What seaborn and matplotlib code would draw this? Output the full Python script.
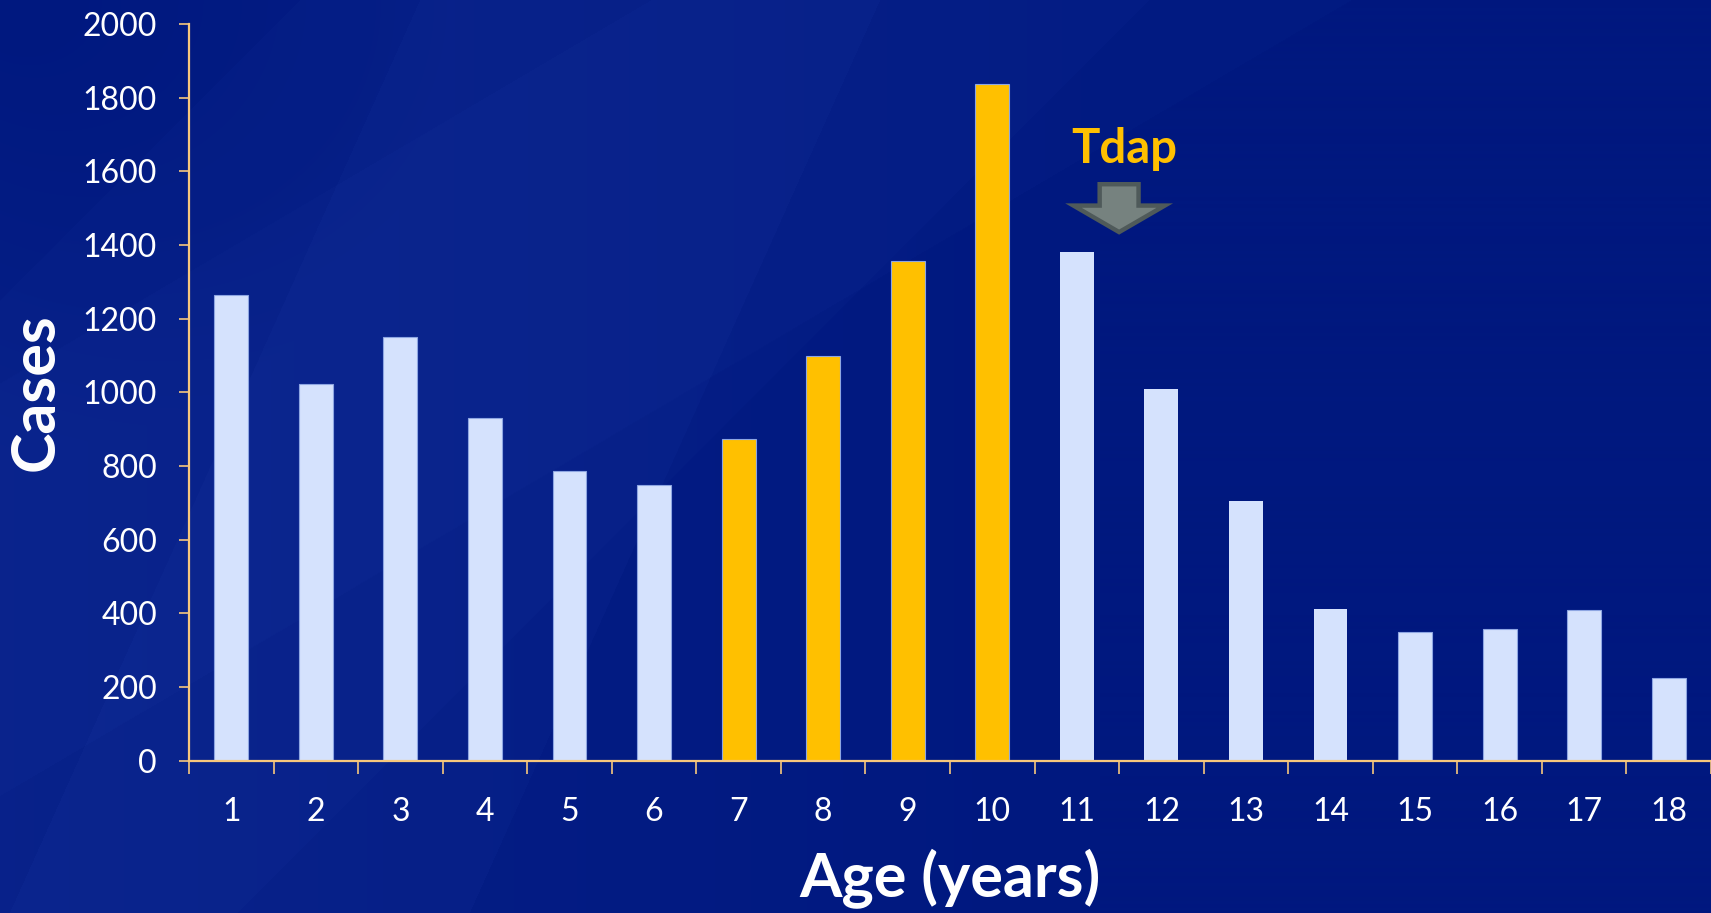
import numpy as np
import pandas as pd
import matplotlib
matplotlib.use("Agg")
import matplotlib.pyplot as plt
import matplotlib.patches as mpatches
from matplotlib.ticker import FixedLocator, NullFormatter, FixedFormatter
import seaborn as sns

# Pertussis cases by single year of age
ages = [str(a) for a in range(1, 19)]
cases = [1265, 1022, 1150, 930, 785, 747, 874, 1099, 1357, 1837,
         1381, 1010, 705, 412, 350, 358, 409, 225]
highlight = ["other"] * 6 + ["peak"] * 4 + ["other"] * 8
yticks = [0, 200, 400, 600, 800, 1000, 1200, 1400, 1600, 1800, 2000]

BG = "#00187f"
BAR_LIGHT = "#d5e2fd"
BAR_GOLD = "#ffc000"
AXIS = "#f7c77c"

sns.set_theme(style="ticks")
plt.rcParams["font.family"] = ["Lato", "DejaVu Sans"]

fig = plt.figure(figsize=(17.11, 9.13), dpi=100)
fig.patch.set_facecolor(BG)

# Background: navy with faint diagonal light streaks
bg = fig.add_axes([0, 0, 1, 1], zorder=-10)
H, W = 913, 1711
yy, xx = np.mgrid[0:H, 0:W].astype(float)
light = np.zeros((H, W))
light += 0.05 * np.clip(1 - xx / 1100, 0, 1)                        # brighter toward the left
light -= 0.05 * np.clip(1 - np.hypot(xx, yy) / 450, 0, 1)            # darker top-left corner
band1 = (xx + 0.45 * yy)                                              # steep streak edges
light += 0.02 * ((band1 > 420) & (band1 < 880)).astype(float)
band2 = (xx - 1.7 * (H - yy))                                         # rising diagonal toward the right
light += 0.015 * ((band2 < -200) & (band2 > -900)).astype(float)
band3 = xx + yy
light += 0.015 * ((band3 > 300) & (band3 < 1150)).astype(float)
base = np.array(matplotlib.colors.to_rgb(BG))
tint = np.array(matplotlib.colors.to_rgb("#2a4ab8"))
img = base[None, None, :] + light[..., None] * (tint - base)[None, None, :] * 3.0
img = np.clip(img, 0, 1)
bg.imshow(img, aspect="auto", extent=[0, 1, 0, 1], origin="upper")
bg.set_axis_off()

ax = fig.add_axes([189 / W, 1 - 760.6 / H, 1 - 189 / W, (760.6 - 24) / H])
ax.set_facecolor("none")

df = pd.DataFrame({"Age": ages, "Cases": cases, "group": highlight})
sns.barplot(data=df, x="Age", y="Cases", hue="group", order=ages,
            palette={"other": BAR_LIGHT, "peak": BAR_GOLD}, dodge=False,
            width=0.4, legend=False, ax=ax, saturation=1.0)
for bar, g in zip(ax.patches, highlight):
    if g == "other":
        bar.set_edgecolor("#8ea6e2")
        bar.set_linewidth(0.8)
    else:
        bar.set_edgecolor(BAR_GOLD)
        bar.set_linewidth(0.0)

ax.set_xlim(-0.5, len(ages) - 0.5)
ax.set_ylim(0, 2000)

for side in ("top", "right"):
    ax.spines[side].set_visible(False)
for side in ("left", "bottom"):
    ax.spines[side].set_color(AXIS)
    ax.spines[side].set_linewidth(1.6)

# y axis
ax.set_yticks(yticks)
ax.set_yticklabels([str(v) for v in yticks])
ax.tick_params(axis="y", colors=AXIS, labelcolor="white", labelsize=23,
               length=7, width=1.2, pad=16, direction="out")

# x axis: ticks on category boundaries, labels at bar centres
ax.xaxis.set_major_locator(FixedLocator(np.arange(-0.5, len(ages), 1.0)))
ax.xaxis.set_major_formatter(NullFormatter())
ax.xaxis.set_minor_locator(FixedLocator(np.arange(len(ages))))
ax.xaxis.set_minor_formatter(FixedFormatter(ages))
ax.tick_params(axis="x", which="major", colors=AXIS, length=9, width=1.2, direction="out")
ax.tick_params(axis="x", which="minor", length=0, labelcolor="white", labelsize=23, pad=26)

ax.set_xlabel("Age (years)", color="white", fontsize=44, fontweight="bold", labelpad=16)
ax.set_ylabel("Cases", color="white", fontsize=44, fontweight="bold", labelpad=14)

# Tdap marker between ages 11 and 12
arrow_x, arrow_top, arrow_tip = 10.5, 1565, 1435
arrow = mpatches.FancyArrow(arrow_x, arrow_top, 0, arrow_tip - arrow_top,
                            width=0.46, head_width=1.08, head_length=72,
                            length_includes_head=True, facecolor="#76827f",
                            edgecolor="#4f5a5a", linewidth=3.2, zorder=5)
ax.add_patch(arrow)
ax.text(arrow_x + 0.06, 1623, "Tdap", color=BAR_GOLD, fontsize=34, fontweight="bold",
        ha="center", va="baseline", zorder=6)

fig.savefig("out.png", dpi=100, facecolor=fig.get_facecolor())
